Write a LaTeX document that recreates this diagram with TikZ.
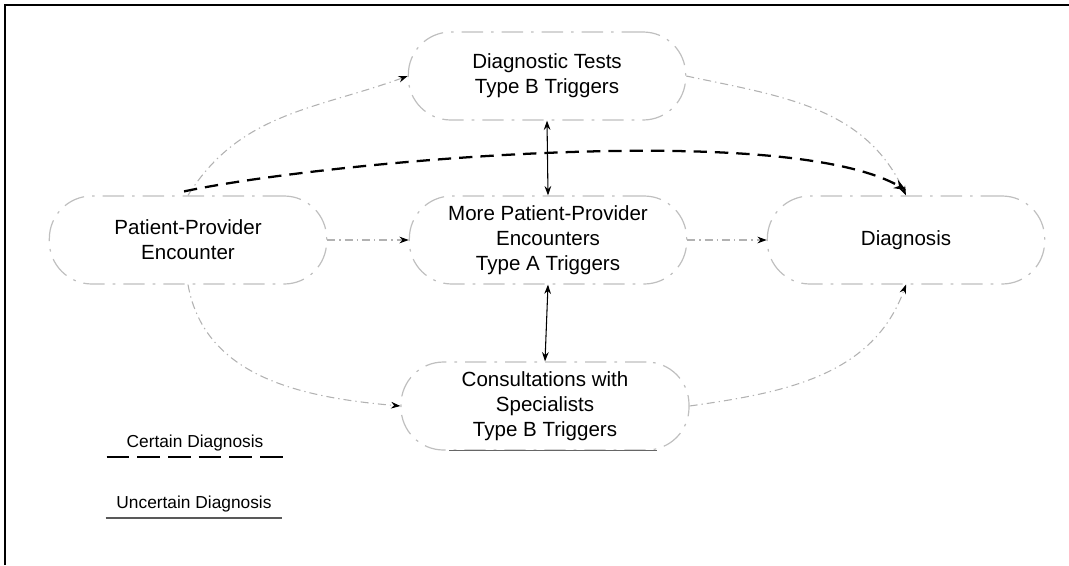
\documentclass[tikz,border=0pt]{standalone}
\usepackage{fontspec}
\setmainfont{Liberation Sans}
\usetikzlibrary{arrows.meta}
\begin{document}
\begin{tikzpicture}[x=0.75pt,y=0.75pt,yscale=-1,xscale=1,
    stage/.style={draw=gray!50,line width=0.9pt,dash pattern=on 16pt off 6pt on 2pt off 6pt,
      rounded corners=32pt,minimum width=208pt,minimum height=66pt,align=center,
      font=\fontsize{15.4pt}{18.8pt}\selectfont},
    flow/.style={draw=gray!60,line width=0.8pt,dash pattern=on 6pt off 3pt on 1pt off 3pt,
      -{Stealth[length=7pt,width=5pt,black]}},
    certain/.style={black,line width=1.7pt,dash pattern=on 10pt off 6pt},
    link/.style={black,line width=0.8pt,{Stealth[length=7pt,width=5pt]}-{Stealth[length=7pt,width=5pt]}},
    legend/.style={anchor=south,minimum width=132pt,inner ysep=4pt,
      font=\fontsize{13pt}{15pt}\selectfont}]
  \useasboundingbox (0,0) rectangle (1069,565);
  \draw[line width=1.5pt] (5,565) -- (5,5) -- (1069,5);

  \node[stage] (tests) at (547,76) {Diagnostic Tests\\Type B Triggers};
  \node[stage] (ppe) at (188,240) {Patient-Provider\\Encounter};
  \node[stage] (more) at (548,240) {More Patient-Provider\\Encounters\\Type A Triggers};
  \node[stage] (diag) at (906,240) {Diagnosis};
  \node[stage,minimum width=216pt] (cons) at (545,406) {Consultations with\\Specialists\\Type B Triggers};
  \draw[gray!80!black,line width=1pt] ([xshift=-72pt]cons.south) -- ([xshift=84pt]cons.south);

  \draw[flow] (ppe.north) to[out=-58,in=160] (tests.west);
  \draw[flow] (tests.east) to[out=12,in=-115] (diag.north);
  \draw[flow] (ppe.south) to[out=80,in=-175] (cons.west);
  \draw[flow] (cons.east) to[out=-8,in=110] (diag.south);
  \draw[flow] (ppe.east) -- (more.west);
  \draw[flow] (more.east) -- (diag.west);
  \draw[link] (tests.south) -- (more.north);
  \draw[link] (more.south) -- (cons.north);
  \draw[certain,-{Stealth[length=9pt,width=7pt]}] ([xshift=-3pt,yshift=-3pt]ppe.north) to[out=-12,in=-150,looseness=0.5] ([yshift=-4pt]diag.north);

  \node[legend] (cert) at (195,457) {Certain Diagnosis};
  \draw[certain,line width=1.5pt,dash pattern=on 17pt off 6pt] (cert.south west) -- (cert.south east);
  \node[legend] (uncert) at (194,518) {Uncertain Diagnosis};
  \draw[gray!70!black,line width=1pt] (uncert.south west) -- (uncert.south east);
\end{tikzpicture}
\end{document}
